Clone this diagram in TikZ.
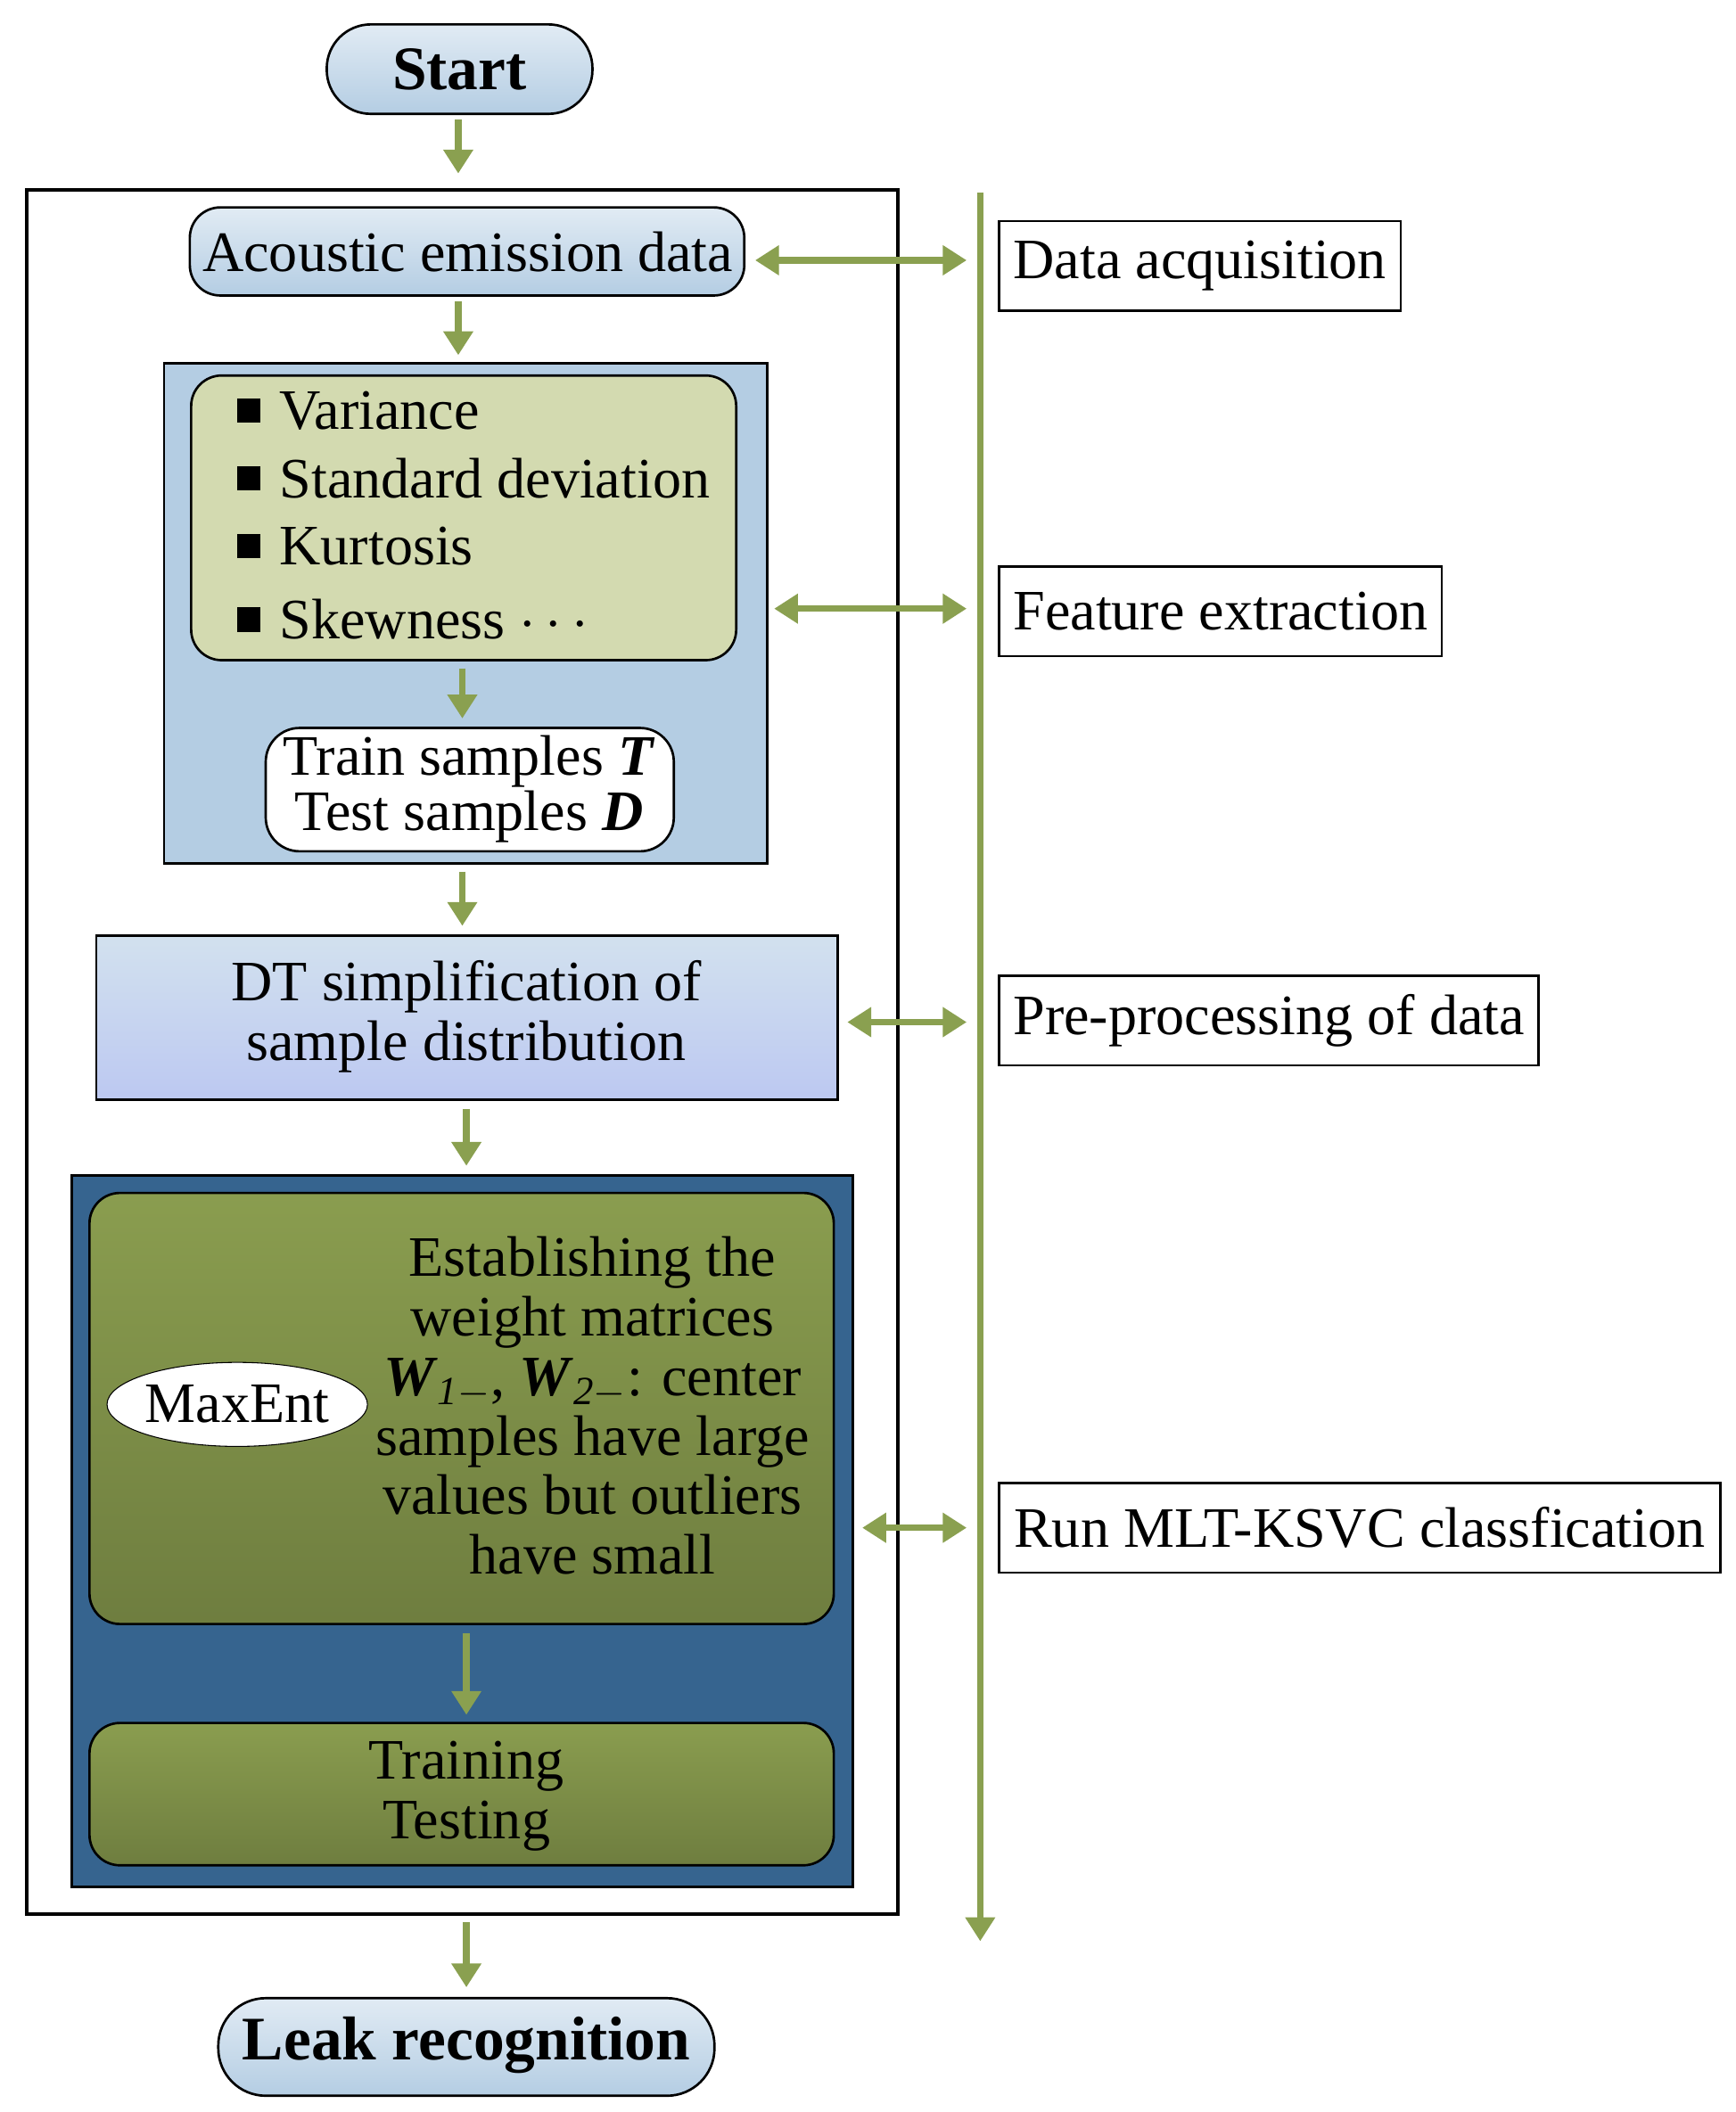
\documentclass[tikz,border=0pt]{standalone}
\usepackage{fontspec}
\setmainfont{Liberation Serif}
\usetikzlibrary{arrows.meta,shapes.geometric}
\definecolor{ar}{HTML}{8AA050}
\definecolor{lb}{HTML}{B4CDE3}
\definecolor{lg}{HTML}{D3DAB0}
\definecolor{db}{HTML}{36648F}
\definecolor{og}{HTML}{8A9D4F}
\begin{document}
\begin{tikzpicture}[x=0.02cm,y=-0.02cm,
  every node/.style={font=\fontsize{24}{30}\selectfont},
  arr/.style={draw=ar,line width=2.8pt,-{Triangle[length=10pt,width=12pt]}},
  darr/.style={draw=ar,line width=2.8pt,{Triangle[length=10pt,width=12pt]}-{Triangle[length=10pt,width=12pt]}},
  box/.style={draw=black,line width=1pt},
  rbox/.style={draw=black,line width=1pt,rounded corners=0.45cm},
  lab/.style={draw=black,line width=1pt,anchor=west,inner sep=6pt,minimum height=1.32cm}]
\useasboundingbox (0,0) rectangle (1280,1558);
% start
\shade[rbox,top color=lb!40,bottom color=lb,rounded corners=0.65cm] (241,18) rectangle (437,84);
\node[font=\fontsize{26}{30}\selectfont\bfseries] (start) at (339,51) {Start};
\draw[box,line width=1.5pt] (20,140) rectangle (662,1412);
\shade[rbox,top color=lb!40,bottom color=lb] (140,153) rectangle (549,218);
\node (ae) at (345,186) {Acoustic emission data};
% feature
\fill[lb,draw=black,line width=1pt] (121,268) rectangle (566,637);
\fill[lg,rbox] (141,277) rectangle (543,487);
\foreach \y/\t in {303/Variance,353/Standard deviation,403/Kurtosis,457/Skewness $\cdots$}{
  \fill (175,\y-9) rectangle (192,\y+9);
  \node[anchor=west] at (200,\y) {\t};}
\fill[white,rbox,rounded corners=0.5cm] (196,537) rectangle (497,628);
\node[align=center,font=\fontsize{24}{23}\selectfont] (tt) at (346,582) {Train samples \textbf{\textit{T}}\\Test samples \textbf{\textit{D}}};
% DT
\shade[box,top color=lb!60,bottom color=lb!80!blue!60!white] (71,690) rectangle (618,811);
\node[align=center,font=\fontsize{24}{25}\selectfont] (dt) at (344,750) {DT simplification of\\sample distribution};
% dark block
\fill[db,draw=black,line width=1pt] (53,867) rectangle (629,1392);
\shade[rbox,top color=og,bottom color=og!80!black] (66,880) rectangle (615,1198);
\node[ellipse,draw=black,fill=white,minimum width=3.24cm,minimum height=1.24cm,inner sep=0pt] (me) at (175,1036) {MaxEnt};
\node[align=center,font=\fontsize{24}{25}\selectfont] (w) at (437,1037) {Establishing the\\weight matrices\\\textbf{\textit{W}}$_{\mathit{1-}}$, \textbf{\textit{W}}$_{\mathit{2-}}$: center\\samples have large\\values but outliers\\have small};
\shade[rbox,top color=og,bottom color=og!80!black] (66,1271) rectangle (615,1376);
\node[align=center,font=\fontsize{24}{25}\selectfont] (tr) at (344,1325) {Training\\Testing};
% leak
\shade[rbox,top color=lb!40,bottom color=lb,rounded corners=0.7cm] (161,1474) rectangle (527,1546);
\node[font=\fontsize{26}{30}\selectfont\bfseries] (leak) at (344,1509) {Leak recognition};
% arrows
\draw[arr] (338,88) -- (338,128);
\draw[arr] (338,222) -- (338,262);
\draw[arr] (341,493) -- (341,530);
\draw[arr] (341,643) -- (341,683);
\draw[arr] (344,818) -- (344,860);
\draw[arr] (344,1205) -- (344,1265);
\draw[arr] (344,1418) -- (344,1466);
\draw[arr] (723,142) -- (723,1432);
\draw[darr] (557,192) -- (713,192);
\draw[darr] (571,449) -- (713,449);
\draw[darr] (625,754) -- (713,754);
\draw[darr] (636,1127) -- (713,1127);
\node[lab,minimum width=5.82cm] (l1) at (736,196) {Data acquisition};
\node[lab,minimum width=6.36cm] (l2) at (736,451) {Feature extraction};
\node[lab,minimum width=7.66cm] (l3) at (736,753) {Pre-processing of data};
\node[lab,minimum width=10.64cm] (l4) at (736,1127) {Run MLT-KSVC classfication};
\end{tikzpicture}
\end{document}
